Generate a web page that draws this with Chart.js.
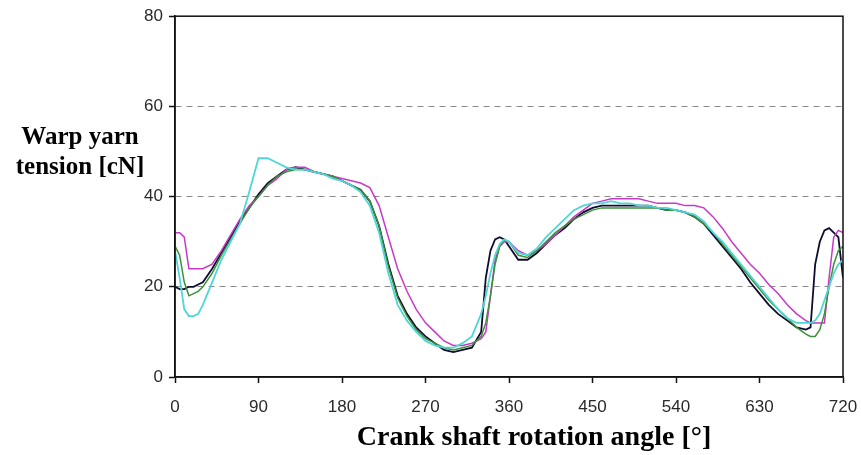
<!DOCTYPE html>
<html>
<head>
<meta charset="utf-8">
<script src="https://cdn.jsdelivr.net/npm/chart.js@4/dist/chart.umd.min.js"></script>
<style>
  html, body { margin: 0; padding: 0; background: #fff; }
  #wrap { position: relative; width: 861px; height: 455px; }
  #chart { position: absolute; left: 0; top: 0; }
  .ttl { position: absolute; font-family: "Liberation Serif", "Times New Roman", serif; font-weight: bold; color: #000; white-space: nowrap; }
  #ytitle { left: 2px; top: 121px; width: 156px; text-align: center; font-size: 25px; line-height: 30px; }
  #xtitle { left: 300px; top: 420px; width: 468px; text-align: center; font-size: 28px; line-height: 32px; }
</style>
</head>
<body>
<div id="wrap">
  <canvas id="chart" width="861" height="455"></canvas>
  <div id="ytitle" class="ttl">Warp yarn<br>tension [cN]</div>
  <div id="xtitle" class="ttl">Crank shaft rotation angle [°]</div>
</div>
<script>
// ── DATA ────────────────────────────────────────────────────────────────────
const angles = [0, 5, 10, 15, 20, 25, 30, 40, 50, 60, 70, 80, 90, 100, 110, 120, 130, 140, 150, 160, 170,
  180, 190, 200, 210, 220, 230, 240, 250, 260, 270, 280, 290, 300, 310, 320, 330, 335, 340, 345, 350, 355,
  360, 370, 380, 390, 400, 410, 420, 430, 440, 450, 460, 470, 480, 490, 500, 510, 520, 530, 540, 550, 560,
  570, 580, 590, 600, 610, 620, 630, 640, 650, 660, 670, 680, 685, 690, 695, 700, 705, 710, 715, 720];

const blackVals = [20, 19.5, 19.5, 20, 20, 20.5, 21, 24, 27.5, 31, 34.5, 37.5, 40.5, 43, 44.5, 46, 46.5, 46, 45.5, 45, 44.5,
  43.5, 42.5, 41.5, 39, 33.5, 25, 18, 14, 11, 9, 7.5, 6, 5.5, 6, 6.5, 10, 22, 28, 30.5, 31, 30.5,
  29, 26, 26, 27.5, 29.5, 31.5, 33, 35, 36.5, 37.5, 38, 38, 38, 38, 38, 38, 37.5, 37, 37, 36.5, 35.5,
  34, 31.5, 29, 26.5, 24, 21, 18.5, 16, 14, 12.5, 11, 10.5, 11, 25, 30, 32.5, 33, 32, 31, 22];

const magentaVals = [32, 32, 31, 24, 24, 24, 24, 25, 28, 31.5, 35, 38, 40, 42.5, 44, 46, 46.5, 46.5, 45.5, 45, 44.5,
  44, 43.5, 43, 42, 38, 31, 24, 19, 15, 12, 10, 8, 7, 7, 7.5, 8.5, 10, 18, 26, 29, 30,
  30, 28, 27, 28, 29.5, 31.5, 33.5, 35.5, 37, 38.5, 39, 39.5, 39.5, 39.5, 39.5, 39, 38.5, 38.5, 38.5, 38, 38,
  37.5, 35.5, 33, 30, 27.5, 25, 23, 20.5, 18.5, 16, 14, 12.5, 12, 12, 12, 12, 22, 31, 32.5, 32];

const cyanVals = [28, 22, 15, 13.5, 13.5, 14, 16, 21, 26, 30, 34, 41, 48.5, 48.5, 47.5, 46.5, 46, 46, 45.5, 45, 44,
  43.5, 42.5, 41, 38, 32, 23, 16, 12.5, 10, 8, 7, 6.5, 6.5, 7.5, 9, 14, 18, 23, 27, 29.5, 30.5,
  30, 27.5, 27, 28.5, 31, 33, 35, 37, 38, 38.5, 38.5, 39, 38.5, 38.5, 38, 38, 37.5, 37.5, 37, 36.5, 36,
  34.5, 32, 30, 27.5, 25, 22.5, 20, 17.5, 15, 13, 12, 12, 12, 12.5, 14, 17, 20, 23, 25, 26];

const greenVals = [29, 27, 21, 18, 18.5, 19, 20, 23, 27, 30.5, 34, 37.5, 40, 42.5, 44.5, 45.5, 46, 46, 45.5, 45, 44.5,
  43.5, 42.5, 41.5, 39, 33.5, 24.5, 17.5, 13.5, 10.5, 8.5, 7.5, 6.5, 6, 6.5, 7, 9, 12, 18, 25, 29, 30.5,
  30, 27, 26.5, 28, 30, 32, 33.5, 35, 36, 37, 37.5, 37.5, 37.5, 37.5, 37.5, 37.5, 37.5, 37, 37, 36.5, 35.5,
  34, 32, 29.5, 27, 24.5, 22, 19.5, 17, 15, 13, 11, 9.5, 9, 9, 10.5, 14, 20, 25, 28, 29];

const xTicks = [0, 90, 180, 270, 360, 450, 540, 630, 720];
const yTicks = [0, 20, 40, 60, 80];

// ── CHART ───────────────────────────────────────────────────────────────────
function series(vals, color, width) {
  return {
    data: angles.map((a, i) => ({ x: a, y: vals[i] })),
    borderColor: color,
    borderWidth: width,
    pointRadius: 0,
    tension: 0,
    fill: false
  };
}

// solid box round the plot area
const frame = {
  id: 'frame',
  afterDatasetsDraw(chart) {
    const { ctx, chartArea: a } = chart;
    ctx.save();
    ctx.strokeStyle = '#111';
    ctx.lineWidth = 1.5;
    ctx.setLineDash([]);
    ctx.strokeRect(a.left, a.top, a.right - a.left, a.bottom - a.top);
    ctx.restore();
  }
};

const tickFont = { family: '"Liberation Sans", Arial, sans-serif', size: 17 };

new Chart(document.getElementById('chart'), {
  type: 'line',
  data: {
    datasets: [
      series(cyanVals, '#4fd6d6', 1.8),
      series(greenVals, '#3d8f3a', 1.5),
      series(magentaVals, '#c838c8', 1.5),
      series(blackVals, '#0c0c2e', 1.8)
    ]
  },
  options: {
    responsive: false,
    animation: false,
    layout: { padding: { left: 0, top: 15, right: 0, bottom: 0 } },
    plugins: { legend: { display: false }, tooltip: { enabled: false } },
    scales: {
      x: {
        type: 'linear',
        min: 0,
        max: 720,
        afterBuildTicks: s => { s.ticks = xTicks.map(v => ({ value: v })); },
        afterFit: s => { s.height = 78; s.paddingLeft = 0; s.paddingRight = 18; },
        ticks: { font: tickFont, color: '#2a2a2a', padding: 14, maxRotation: 0, autoSkip: false },
        grid: { drawOnChartArea: false, tickLength: 6, tickColor: '#111', tickWidth: 1.5 },
        border: { color: '#111', width: 1.5 }
      },
      y: {
        min: 0,
        max: 80,
        afterBuildTicks: s => { s.ticks = yTicks.map(v => ({ value: v })); },
        afterFit: s => { s.width = 175; },
        ticks: { font: tickFont, color: '#2a2a2a', padding: 6 },
        grid: {
          color: c => (c.tick && (c.tick.value === 0 || c.tick.value === 80)) ? 'rgba(0,0,0,0)' : '#8a8a8a',
          tickBorderDash: [1, 0],
          tickLength: 6,
          tickColor: '#111',
          tickWidth: 1.5
        },
        border: { color: '#111', width: 1.5, dash: [6, 5] }
      }
    }
  },
  plugins: [frame]
});
</script>
</body>
</html>
